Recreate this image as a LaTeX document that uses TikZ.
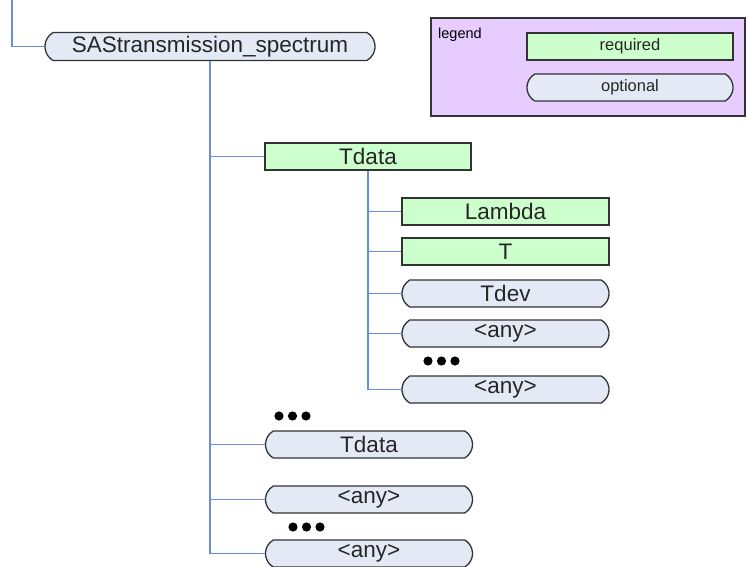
\documentclass[tikz,border=0pt]{standalone}
\usepackage{fontspec}
\setmainfont{Liberation Sans}
\usetikzlibrary{shapes.misc}
\definecolor{reqfill}{HTML}{CCFFCC}
\definecolor{optfill}{HTML}{E4EAF5}
\definecolor{legfill}{HTML}{E6CCFF}
\definecolor{connblue}{HTML}{6A8FD8}
\definecolor{edge}{HTML}{333333}
\tikzset{
  base/.style={draw=edge, line width=1.3pt, inner sep=0pt, font=\fontsize{22.5}{24}\selectfont, text=black!85},
  req/.style={base, rectangle, fill=reqfill, minimum width=206pt, minimum height=27pt},
  opt/.style={base, rounded rectangle, rounded rectangle arc length=120, fill=optfill, minimum width=207pt, minimum height=27pt},
  conn/.style={draw=connblue, line width=1.2pt},
  dotmark/.style={fill=black}
}
\begin{document}
\begin{tikzpicture}[x=1pt,y=-1pt]
\useasboundingbox (0,0) rectangle (748,567);
% legend
\node[draw=edge, line width=1.2pt, fill=legfill, minimum width=314pt, minimum height=98pt, inner sep=0pt] (legend) at (588,67) {};
\node[anchor=north west, inner sep=0pt, font=\fontsize{14.5}{16}\selectfont] (legtitle) at (438,28) {legend};
\node[req, minimum width=206pt, font=\fontsize{16.5}{18}\selectfont] (lreq) at (630,46.5) {required};
\node[opt, minimum width=206pt, font=\fontsize{16.5}{18}\selectfont] (lopt) at (630,87.5) {optional};
% tree
\coordinate (tl) at (12,0);
\node[opt, minimum width=330pt, minimum height=28pt] (root) at (210,46.5) {SAStransmission\_spectrum};
\node[req] (tdata) at (368,156.5) {Tdata};
\node[req, minimum width=207pt] (lambda) at (505.5,211.5) {Lambda};
\node[req, minimum width=207pt] (t) at (505.5,251.5) {T};
\node[opt] (tdev) at (505.5,293.5) {Tdev};
\node[opt] (any1) at (505.5,333.5) {<any>};
\node[opt] (any2) at (505.5,389.5) {<any>};
\node[opt] (tdata2) at (369,444.5) {Tdata};
\node[opt] (any3) at (369,499.5) {<any>};
\node[opt] (any4) at (369,553.5) {<any>};
% connectors
\draw[conn] (tl) |- (root.west);
\draw[conn] (root.south) |- (any4.west);
\draw[conn] (root.south |- tdata.west) -- (tdata.west);
\draw[conn] (root.south |- tdata2.west) -- (tdata2.west);
\draw[conn] (root.south |- any3.west) -- (any3.west);
\draw[conn] (tdata.south) |- (any2.west);
\draw[conn] (tdata.south |- lambda.west) -- (lambda.west);
\draw[conn] (tdata.south |- t.west) -- (t.west);
\draw[conn] (tdata.south |- tdev.west) -- (tdev.west);
\draw[conn] (tdata.south |- any1.west) -- (any1.west);
% ellipsis dots
\foreach \cx in {428,441.5,455} \fill[dotmark] (\cx,361) circle (4.6pt);
\foreach \cx in {279,292.5,306} \fill[dotmark] (\cx,416) circle (4.6pt);
\foreach \cx in {293,306.5,320} \fill[dotmark] (\cx,527) circle (4.6pt);
\end{tikzpicture}
\end{document}
